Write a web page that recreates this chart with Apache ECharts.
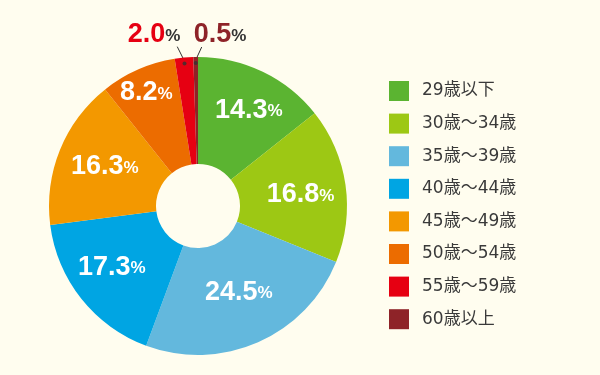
<!DOCTYPE html>
<html><head><meta charset="utf-8">
<script src="https://cdn.jsdelivr.net/npm/echarts@6/dist/echarts.min.js"></script>
<style>html,body{margin:0;padding:0;background:#FFFDEF}#c{width:600px;height:375px}</style>
</head><body><div id="c"></div>
<script>
const categories = ['29歳以下','30歳～34歳','35歳～39歳','40歳～44歳','45歳～49歳','50歳～54歳','55歳～59歳','60歳以上'];
const values = [14.3, 16.8, 24.5, 17.3, 16.3, 8.2, 2.0, 0.5];
const colors = ['#5BB431','#9DC814','#63B8DD','#00A5E3','#F39800','#EC6C00','#E60012','#8E2328'];
const outsideLabels = ['55歳～59歳','60歳以上'];
// label nudges (styling only)
const labelNudge = [[8,-7],[5,3],[1,-4],[-9,0],[-2,-2],[-12,-23],[0,0],[0,0]];
// leader-line end offsets from the slice point (styling only)
const leaderEnd = { 6: [-7, -14], 7: [6, -13] };

const total = values.reduce((a,b)=>a+b,0);
let cum = 0;
const mids = values.map(v => { const m = cum + v/2; cum += v; return m; });

const FONT = 'Liberation Sans';
const chart = echarts.init(document.getElementById('c'));
const center = [198, 206];
chart.setOption({
  backgroundColor: '#FFFDEF',
  animation: false,
  color: colors,
  legend: {
    orient: 'vertical', left: 389, top: 81, padding: 0,
    itemWidth: 20, itemHeight: 20, itemGap: 12.6, icon: 'rect',
    textStyle: { fontFamily: "'DejaVu Sans','Noto Sans CJK JP'", fontSize: 17, color: '#3a3a3a', padding: [0,0,0,8] },
    data: categories
  },
  polar: { center: center, radius: 146 },
  angleAxis: { type: 'value', min: 0, max: total, startAngle: 90, clockwise: true, show: false },
  radiusAxis: { type: 'value', min: 0, max: 1, show: false },
  series: [
    {
      type: 'pie', center: center, radius: [42, 149], startAngle: 90,
      avoidLabelOverlap: false, silent: true,
      label: {
        show: true, position: 'inside',
        formatter: p => outsideLabels.includes(p.name) ? '' : '{n|' + p.value.toFixed(1) + '}{p|%}',
        rich: {
          n: { fontFamily: FONT, fontWeight: 'bold', fontSize: 27, lineHeight: 27, color: '#fff' },
          p: { fontFamily: FONT, fontWeight: 'bold', fontSize: 17, lineHeight: 17, color: '#fff', verticalAlign: 'bottom', padding: [0,0,4,0] }
        }
      },
      labelLayout: p => ({ dx: labelNudge[p.dataIndex][0], dy: labelNudge[p.dataIndex][1] }),
      labelLine: { show: false },
      data: categories.map((c,i) => ({ name: c, value: values[i] }))
    },
    {
      type: 'pie', center: center, radius: [0, 146], startAngle: 90,
      avoidLabelOverlap: false, silent: true, legendHoverLink: false,
      itemStyle: { color: 'rgba(0,0,0,0)' },
      label: {
        show: true, position: 'outside',
        formatter: p => outsideLabels.includes(p.name) ? '{' + (p.dataIndex===6?'r':'d') + '|' + p.value.toFixed(1) + '}{p|%}' : '',
        rich: {
          r: { fontFamily: FONT, fontWeight: 'bold', fontSize: 27, lineHeight: 27, color: '#E60012' },
          d: { fontFamily: FONT, fontWeight: 'bold', fontSize: 27, lineHeight: 27, color: '#8E2328' },
          p: { fontFamily: FONT, fontWeight: 'bold', fontSize: 17, lineHeight: 17, color: '#333', verticalAlign: 'bottom', padding: [0,0,4,0] }
        }
      },
      labelLine: { show: true, length: 14, length2: 0, lineStyle: { color: '#333', width: 1 } },
      labelLayout: p => {
        const pos = { 6: [154, 35], 7: [220, 35] }[p.dataIndex];
        if (!pos) return {};
        const out = { x: pos[0], y: pos[1], align: 'center', verticalAlign: 'middle' };
        const pts = p.labelLinePoints;
        if (pts && pts.length) {
          const s = pts[0], e = leaderEnd[p.dataIndex];
          const end = [s[0] + e[0], s[1] + e[1]];
          out.labelLinePoints = [s, end, end];
        }
        return out;
      },
      data: categories.map((c,i) => ({ name: c, value: values[i], labelLine: { show: outsideLabels.includes(c) } }))
    },
    {
      type: 'scatter', coordinateSystem: 'polar', symbolSize: 4, silent: true,
      itemStyle: { color: '#333' },
      data: values.map((v,i) => outsideLabels.includes(categories[i]) ? [0.98, mids[i]] : null).filter(d => d)
    }
  ]
});
</script></body></html>
